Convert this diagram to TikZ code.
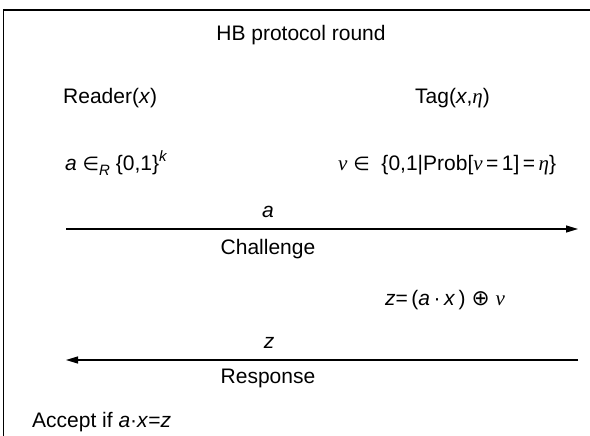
\documentclass[tikz,border=0pt]{standalone}
\usepackage{fontspec}
\setmainfont{Liberation Sans}
\newfontfamily\grkfont{Liberation Serif}
\newfontfamily\symfont[Scale=0.9]{DejaVu Sans}
\usetikzlibrary{arrows.meta}

% short forms for the formulas
\newcommand{\gnu}{{\grkfont\itshape ν}}
\newcommand{\geta}{{\grkfont\itshape η}}
\newcommand{\vin}{{\symfont ∈}}

\begin{document}
\begin{tikzpicture}[x=1pt,y=-1pt,
 txt/.style={inner sep=0pt,anchor=base west},
 lbl/.style={inner sep=0pt,anchor=base},
 msg/.style={line width=1.1pt,-{Triangle[length=12pt,width=7pt]}},
 font=\fontsize{21}{25}\selectfont]
\useasboundingbox (0,0) rectangle (590,436);
\draw[line width=1.4pt] (3.5,436) -- (3.5,10) -- (590,10);
\node[lbl] (title) at (301,40.7) {HB protocol round};
\node[txt] (reader) at (63,104) {Reader(\textit{x})};
\node[txt] (tag) at (415,104) {Tag(\textit{x},\geta)};
\node[txt] (pick) at (65,170.5)
 {\textit{a} \vin\raisebox{-5pt}{\fontsize{15}{17}\selectfont\textit{R}} \{0,1\}\raisebox{9pt}{\fontsize{15}{17}\selectfont\textit{k}}};
\node[txt] (noise) at (338,170.5) {\gnu\ \vin\ \ \{0,1|Prob[\gnu\,=\,1]\,=\,\geta\}};
\coordinate (r1) at (66,229);
\coordinate (t1) at (578,229);
\draw[msg] (r1) -- (t1);
\node[lbl] (a) at (268,217) {\textit{a}};
\node[lbl] (chal) at (268,254) {Challenge};
\node[txt] (xor) at (385,305) {\textit{z}=\,(\textit{a}\,·\,\textit{x}\,)\ {\fontsize{24}{26}\symfont ⊕}\ \gnu};
\coordinate (t2) at (578,360);
\coordinate (r2) at (66,360);
\draw[msg] (t2) -- (r2);
\node[lbl] (z) at (269,348) {\textit{z}};
\node[lbl] (resp) at (268,383) {Response};
\node[txt] (accept) at (32,427) {Accept if \textit{a}·\textit{x}=\textit{z}};
\end{tikzpicture}
\end{document}
